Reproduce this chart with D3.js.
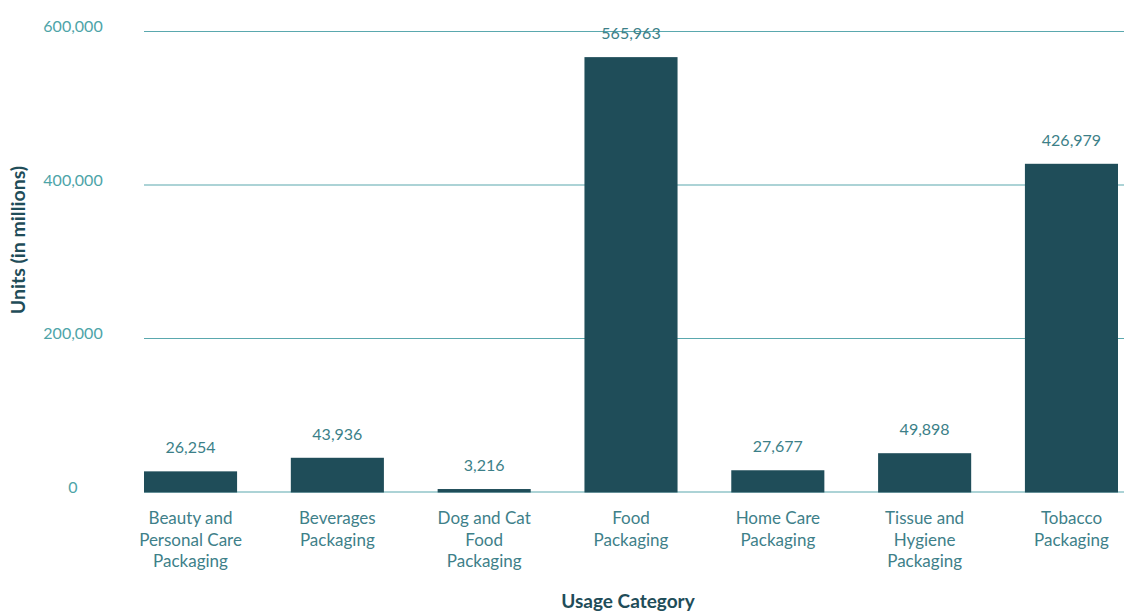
<!DOCTYPE html>
<html>
<head>
<meta charset="utf-8">
<script src="https://cdn.jsdelivr.net/npm/d3@7"></script>
<style>
  html, body { margin: 0; padding: 0; background: #fff; }
  svg { display: block; font-family: Lato, "Open Sans", sans-serif; }
</style>
</head>
<body>
<svg id="chart" width="1124" height="613"></svg>
<script>
// Packaging units by usage category (in millions)
const categories = [
  ["Beauty and", "Personal Care", "Packaging"],
  ["Beverages", "Packaging"],
  ["Dog and Cat", "Food", "Packaging"],
  ["Food", "Packaging"],
  ["Home Care", "Packaging"],
  ["Tissue and", "Hygiene", "Packaging"],
  ["Tobacco", "Packaging"]
];
const units = [26254, 43936, 3216, 565963, 27677, 49898, 426979];
const yTicks = [0, 200000, 400000, 600000];

const svg = d3.select("#chart");
const left = 144, right = 1118, zeroY = 491.5, topY = 31;

const keys = categories.map(c => c.join(" "));
const x = d3.scaleBand().domain(keys).range([left, right])
  .paddingInner(0.366).paddingOuter(0);
const y = d3.scaleLinear().domain([0, 600000]).range([zeroY, topY]);
const fmt = d3.format(",");

// gridlines + tick labels
const yAxis = d3.axisLeft(y).tickValues(yTicks).tickSize(0).tickPadding(0)
  .tickFormat(d => fmt(d));
const gy = svg.append("g").call(yAxis);
gy.select(".domain").remove();
gy.selectAll(".tick text")
  .attr("x", 73).attr("text-anchor", "middle").attr("dy", "0.05em")
  .attr("fill", "#4da4a8").style("font-size", "16px")
  .style("font-family", "Lato, 'Open Sans', sans-serif");
gy.selectAll(".tick line")
  .attr("x1", left).attr("x2", 1124)
  .attr("stroke", "#5aa8ae").attr("stroke-width", 1.2);

// bars
svg.append("g").selectAll("rect").data(units).join("rect")
  .attr("x", (d, i) => x(keys[i]))
  .attr("width", x.bandwidth())
  .attr("y", d => y(d))
  .attr("height", d => zeroY - y(d) + 1)
  .attr("fill", "#1f4d59");

// value labels
svg.append("g").selectAll("text").data(units).join("text")
  .attr("x", (d, i) => x(keys[i]) + x.bandwidth() / 2)
  .attr("y", d => y(d) - 18)
  .attr("text-anchor", "middle")
  .attr("fill", "#3c7f88")
  .style("font-size", "16px")
  .text(d => fmt(d));

// category labels
const xl = svg.append("g").selectAll("text").data(categories).join("text")
  .attr("x", (d, i) => x(keys[i]) + x.bandwidth() / 2)
  .attr("y", 524)
  .attr("text-anchor", "middle")
  .attr("fill", "#3e8089")
  .style("font-size", "17px");
xl.selectAll("tspan").data(d => d).join("tspan")
  .attr("x", function () { return d3.select(this.parentNode).attr("x"); })
  .attr("dy", (d, i) => i === 0 ? 0 : 21.5)
  .text(d => d);

// axis titles
svg.append("text")
  .attr("transform", "translate(25,240) rotate(-90)")
  .attr("text-anchor", "middle")
  .attr("fill", "#1f4d59")
  .style("font-size", "19.5px").style("font-weight", "bold")
  .text("Units (in millions)");
svg.append("text")
  .attr("x", 628).attr("y", 608)
  .attr("text-anchor", "middle")
  .attr("fill", "#1f4d59")
  .style("font-size", "19px").style("font-weight", "bold")
  .text("Usage Category");
</script>
</body>
</html>
